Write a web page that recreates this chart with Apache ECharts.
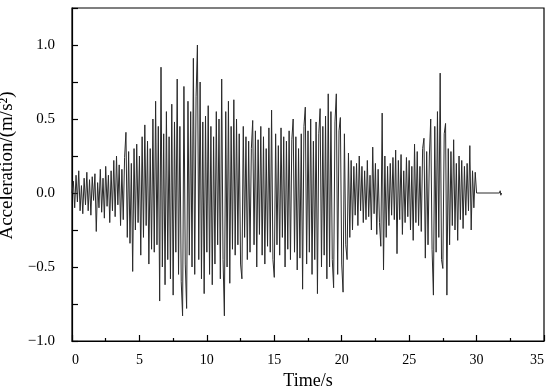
<!DOCTYPE html>
<html>
<head>
<meta charset="utf-8">
<script src="https://cdn.jsdelivr.net/npm/echarts@6/dist/echarts.min.js"></script>
<style>
  html, body { margin: 0; padding: 0; background: #fff; }
  #chart { width: 550px; height: 389px; }
</style>
</head>
<body>
<div id="chart"></div>
<script>
// Sampling of the main record (s)
const startTime = 0.0;
const sampleStep = 0.1;
// Acceleration (m/s^2), one row per second, 10 samples each
const accel = [
  0.00, 0.08, -0.10, 0.12, -0.06, 0.15, -0.12, 0.05, -0.14, 0.10,
  -0.08, 0.14, -0.12, 0.09, -0.15, 0.11, -0.05, 0.13, -0.26, 0.07,
  -0.10, 0.16, -0.13, 0.10, -0.17, 0.18, -0.09, 0.12, -0.20, 0.15,
  -0.12, 0.22, -0.16, 0.25, -0.08, 0.19, -0.22, 0.16, -0.18, 0.24,
  0.41, -0.30, 0.28, -0.34, 0.20, -0.53, 0.30, -0.25, 0.33, -0.20,
  0.25, -0.42, 0.38, -0.30, 0.46, -0.22, 0.35, -0.48, 0.30, -0.38,
  0.50, -0.40, 0.62, -0.35, 0.45, -0.73, 0.85, -0.50, 0.40, -0.62,
  0.55, -0.45, 0.38, -0.58, 0.60, -0.69, 0.48, -0.40, 0.77, -0.55,
  0.45, -0.60, -0.83, 0.72, -0.48, -0.78, 0.62, -0.42, 0.55, -0.50,
  0.91, -0.55, 0.65, 1.00, -0.45, 0.75, -0.58, 0.48, -0.68, 0.52,
  -0.40, 0.59, -0.55, 0.45, -0.62, 0.38, -0.48, 0.55, -0.35, 0.50,
  -0.58, 0.77, -0.45, -0.83, 0.55, -0.50, 0.62, -0.61, 0.45, -0.38,
  0.63, -0.42, 0.50, -0.35, 0.40, -0.48, -0.58, 0.45, -0.30, 0.38,
  -0.45, 0.35, -0.40, 0.30, 0.49, -0.35, 0.42, -0.50, 0.36, -0.28,
  0.45, -0.42, 0.38, -0.48, 0.30, -0.36, 0.44, -0.40, 0.56, -0.45,
  -0.57, 0.40, -0.35, 0.32, -0.42, 0.44, -0.30, 0.38, -0.50, 0.35,
  -0.38, 0.42, -0.45, 0.36, 0.50, -0.40, 0.38, -0.52, 0.30, -0.44,
  0.40, -0.65, 0.45, 0.58, -0.48, 0.42, -0.40, 0.50, -0.55, 0.35,
  -0.45, 0.48, -0.68, 0.40, 0.57, -0.50, 0.45, -0.42, 0.52, -0.58,
  0.67, -0.50, 0.55, -0.45, -0.64, 0.48, 0.67, -0.55, 0.42, 0.51,
  -0.48, -0.67, 0.40, -0.35, -0.45, 0.27, -0.30, 0.22, -0.25, 0.18,
  -0.15, 0.20, -0.22, 0.25, -0.12, 0.18, -0.20, 0.15, -0.18, 0.22,
  -0.16, 0.12, -0.25, 0.31, -0.14, 0.20, -0.28, 0.16, -0.20, -0.36,
  0.54, -0.52, 0.25, -0.30, 0.18, -0.22, 0.20, -0.15, 0.24, -0.18,
  0.29, -0.41, 0.22, -0.18, 0.26, -0.28, 0.15, -0.20, 0.24, -0.16,
  0.22, -0.25, 0.18, -0.32, 0.33, -0.20, 0.28, -0.22, 0.18, -0.26,
  0.30, 0.37, -0.44, 0.28, -0.35, 0.25, 0.50, -0.38, -0.69, 0.45,
  -0.40, 0.55, -0.30, 0.81, -0.45, -0.51, 0.40, 0.47, -0.69, 0.30,
  -0.35, 0.28, -0.22, 0.36, -0.25, 0.20, -0.32, 0.25, -0.18, 0.22,
  -0.24, 0.18, -0.15, 0.20, -0.12, 0.32, -0.25, 0.15, -0.10, 0.14
];
// Quiet tail after the record
const tailTime  = [30.0, 31.7, 31.75, 31.8, 31.85];
const tailAccel = [0.00, 0.00, 0.015, -0.015, 0.00];

// Axis ticks
const xTicks = [0, 5, 10, 15, 20, 25, 30, 35];
const yTicks = [-1.0, -0.5, 0.0, 0.5, 1.0];

const data = accel.map((v, i) => [+(startTime + i * sampleStep).toFixed(2), v]);
tailTime.forEach((t, i) => data.push([t, tailAccel[i]]));

const font = '"Liberation Serif", "Times New Roman", serif';
const chart = echarts.init(document.getElementById('chart'), null, { renderer: 'canvas' });

chart.setOption({
  animation: false,
  backgroundColor: '#fff',
  grid: {
    left: 72, right: 6, top: 8, bottom: 48,
    containLabel: false, outerBoundsMode: 'none',
    show: true, borderColor: '#000', borderWidth: 1.2, backgroundColor: 'transparent'
  },
  xAxis: {
    type: 'value',
    min: xTicks[0], max: xTicks[xTicks.length - 1], interval: 5,
    name: 'Time/s', nameLocation: 'middle', nameGap: 24,
    nameTextStyle: { fontFamily: font, fontSize: 18, color: '#000' },
    axisLine: { show: true, onZero: false, lineStyle: { color: '#000', width: 1.2 } },
    axisTick: { show: true, inside: true, length: 6, lineStyle: { color: '#000', width: 1.2 } },
    minorTick: { show: true, splitNumber: 2, length: 3, lineStyle: { color: '#000', width: 1.2 } },
    splitLine: { show: false },
    axisLabel: {
      fontFamily: font, fontSize: 14, color: '#000', margin: 12,
      alignMinLabel: 'left', alignMaxLabel: 'right',
      formatter: v => String(v)
    }
  },
  yAxis: {
    type: 'value',
    min: -1, max: 1.25, interval: 0.25,
    name: 'Acceleration/(m/s²)', nameLocation: 'middle', nameGap: 48,
    nameTextStyle: { fontFamily: font, fontSize: 19, color: '#000', padding: [0, 0, 0, 18] },
    axisLine: { show: true, onZero: false, lineStyle: { color: '#000', width: 1.2 } },
    axisTick: { show: true, inside: true, length: 6, lineStyle: { color: '#000', width: 1.2 } },
    splitLine: { show: false },
    axisLabel: {
      fontFamily: font, fontSize: 15, color: '#000', margin: 17,
      formatter: v => {
        const hit = yTicks.find(t => Math.abs(t - v) < 1e-9);
        if (hit === undefined) return '';
        return hit.toFixed(1).replace('-', '\u2212');
      }
    }
  },
  series: [{
    type: 'line',
    data: data,
    showSymbol: false,
    sampling: 'none',
    lineStyle: { color: '#2a2a2a', width: 1 },
    silent: true
  }]
});
</script>
</body>
</html>
